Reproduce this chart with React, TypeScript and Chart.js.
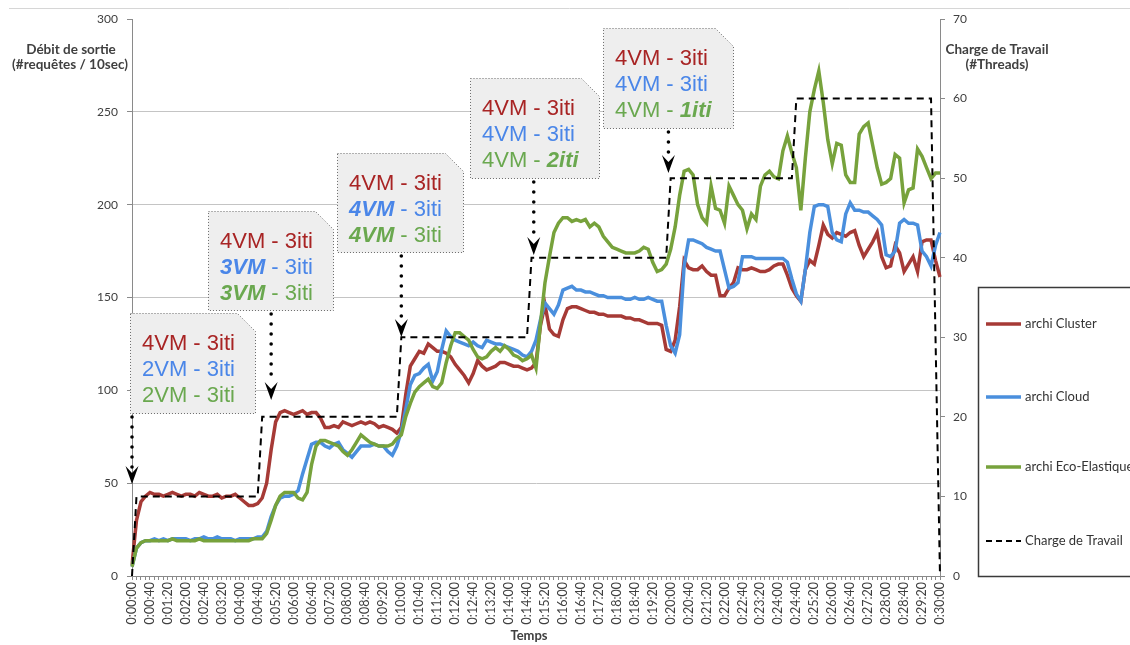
import React, { useEffect, useRef } from 'react';
import { Chart, registerables } from 'chart.js';

Chart.register(...registerables);

// Tick labels shown every 4th sample (every 40 s); samples every 10 s.
const tickLabels: string[] = [
  '0:00:00', '0:00:40', '0:01:20', '0:02:00', '0:02:40', '0:03:20', '0:04:00', '0:04:40',
  '0:05:20', '0:06:00', '0:06:40', '0:07:20', '0:08:00', '0:08:40', '0:09:20', '0:10:00',
  '0:10:40', '0:11:20', '0:12:00', '0:12:40', '0:13:20', '0:14:00', '0:14:40', '0:15:20',
  '0:16:00', '0:16:40', '0:17:20', '0:18:00', '0:18:40', '0:19:20', '0:20:00', '0:20:40',
  '0:21:20', '0:22:00', '0:22:40', '0:23:20', '0:24:00', '0:24:40', '0:25:20', '0:26:00',
  '0:26:40', '0:27:20', '0:28:00', '0:28:40', '0:29:20', '0:30:00',
];

const clusterValues: number[] = [
  6, 30, 40, 43, 45, 44, 44, 43, 44, 45,
  44, 43, 44, 44, 43, 45, 44, 43, 43, 44,
  42, 43, 43, 44, 42, 40, 38, 38, 39, 42,
  50, 68, 83, 88, 89, 88, 87, 88, 89, 87,
  88, 88, 85, 80, 80, 81, 80, 83, 82, 81,
  82, 83, 82, 83, 82, 80, 81, 80, 79, 77,
  80, 98, 113, 117, 121, 120, 125, 123, 121, 121,
  120, 118, 114, 111, 108, 104, 109, 116, 113, 111,
  112, 113, 115, 115, 114, 113, 113, 112, 111, 112,
  115, 135, 146, 133, 130, 129, 138, 144, 145, 145,
  144, 143, 142, 142, 141, 141, 140, 140, 140, 140,
  139, 139, 138, 138, 137, 136, 136, 136, 135, 122,
  121, 127, 145, 170, 166, 165, 165, 167, 164, 162,
  162, 151, 151, 155, 158, 166, 165, 165, 166, 165,
  164, 164, 165, 167, 168, 168, 162, 155, 151, 148,
  165, 170, 168, 178, 189, 184, 182, 185, 184, 183,
  185, 186, 178, 172, 176, 180, 185, 172, 166, 167,
  178, 174, 164, 168, 172, 164, 180, 181, 181, 170,
  161,
];

const cloudValues: number[] = [
  5, 15, 18, 19, 19, 20, 19, 20, 19, 20,
  20, 20, 20, 19, 20, 20, 21, 20, 20, 21,
  20, 20, 20, 19, 20, 20, 20, 20, 21, 21,
  24, 32, 38, 42, 43, 43, 44, 46, 55, 63,
  71, 72, 72, 70, 69, 71, 72, 68, 66, 64,
  67, 70, 70, 70, 71, 70, 70, 67, 65, 70,
  78, 90, 103, 108, 109, 112, 114, 105, 110, 122,
  132, 129, 127, 126, 125, 124, 126, 124, 123, 127,
  126, 125, 125, 124, 123, 122, 121, 119, 118, 121,
  127, 138, 147, 144, 141, 146, 154, 155, 156, 154,
  154, 153, 153, 152, 151, 151, 150, 150, 150, 150,
  149, 149, 150, 149, 149, 150, 149, 148, 148, 135,
  124, 120, 130, 167, 181, 181, 180, 179, 177, 176,
  175, 175, 165, 155, 156, 158, 172, 172, 172, 171,
  171, 171, 171, 171, 171, 171, 169, 160, 152, 148,
  165, 185, 199, 200, 200, 199, 185, 181, 180, 195,
  201, 197, 197, 196, 196, 194, 192, 189, 173, 172,
  175, 190, 192, 190, 190, 189, 175, 172, 167, 178,
  185,
];

const ecoValues: number[] = [
  5, 15, 18, 19, 19, 19, 19, 19, 19, 20,
  19, 19, 19, 19, 19, 20, 19, 19, 19, 19,
  19, 19, 19, 19, 19, 19, 19, 20, 20, 20,
  23, 30, 38, 43, 45, 45, 45, 42, 41, 45,
  60, 70, 73, 73, 72, 71, 70, 67, 65, 68,
  72, 76, 74, 72, 71, 70, 70, 70, 71, 74,
  76, 86, 93, 99, 102, 104, 106, 102, 101, 104,
  115, 124, 131, 131, 129, 127, 122, 118, 117, 118,
  121, 123, 121, 124, 122, 119, 118, 116, 117, 119,
  112, 136, 158, 172, 185, 190, 193, 193, 191, 192,
  191, 192, 188, 190, 188, 183, 180, 177, 176, 175,
  174, 174, 174, 175, 177, 176, 169, 164, 165, 168,
  176, 188, 205, 218, 219, 216, 200, 193, 190, 210,
  198, 197, 190, 210, 205, 200, 197, 187, 195, 192,
  210, 216, 218, 215, 214, 229, 237, 228, 220, 197,
  225, 250, 262, 272, 255, 235, 222, 233, 232, 216,
  212, 212, 238, 242, 244, 232, 220, 211, 212, 214,
  227, 225, 201, 208, 209, 230, 226, 220, 214, 217,
  217,
];

const workloadValues: number[] = [
  0, 10, 10, 10, 10, 10, 10, 10, 10, 10,
  10, 10, 10, 10, 10, 10, 10, 10, 10, 10,
  10, 10, 10, 10, 10, 10, 10, 10, 10, 20,
  20, 20, 20, 20, 20, 20, 20, 20, 20, 20,
  20, 20, 20, 20, 20, 20, 20, 20, 20, 20,
  20, 20, 20, 20, 20, 20, 20, 20, 20, 20,
  30, 30, 30, 30, 30, 30, 30, 30, 30, 30,
  30, 30, 30, 30, 30, 30, 30, 30, 30, 30,
  30, 30, 30, 30, 30, 30, 30, 30, 30, 40,
  40, 40, 40, 40, 40, 40, 40, 40, 40, 40,
  40, 40, 40, 40, 40, 40, 40, 40, 40, 40,
  40, 40, 40, 40, 40, 40, 40, 40, 40, 40,
  50, 50, 50, 50, 50, 50, 50, 50, 50, 50,
  50, 50, 50, 50, 50, 50, 50, 50, 50, 50,
  50, 50, 50, 50, 50, 50, 50, 50, 60, 60,
  60, 60, 60, 60, 60, 60, 60, 60, 60, 60,
  60, 60, 60, 60, 60, 60, 60, 60, 60, 60,
  60, 60, 60, 60, 60, 60, 60, 60, 60, 30,
  0,
];

const seriesNames: string[] = ['archi Cluster', 'archi Cloud', 'archi Eco-Elastique', 'Charge de Travail'];
const seriesColors: string[] = ['#a63a36', '#4a8fdd', '#77a23c', '#000000'];

const RED = '#a82424';
const BLUE = '#4a86e8';
const GREEN = '#6aa84f';

type Part = { text: string; strong?: boolean };
type Line = { color: string; parts: Part[] };
type Note = { left: number; top: number; width: number; height: number; arrowIndex: number; tipY: number; lines: Line[] };

const notes: Note[] = [
  {
    left: 130, top: 313, width: 125, height: 100, arrowIndex: 0, tipY: 484,
    lines: [
      { color: RED, parts: [{ text: '4VM - 3iti' }] },
      { color: BLUE, parts: [{ text: '2VM - 3iti' }] },
      { color: GREEN, parts: [{ text: '2VM - 3iti' }] },
    ],
  },
  {
    left: 208, top: 211, width: 125, height: 99, arrowIndex: 31, tipY: 400,
    lines: [
      { color: RED, parts: [{ text: '4VM - 3iti' }] },
      { color: BLUE, parts: [{ text: '3VM', strong: true }, { text: ' - 3iti' }] },
      { color: GREEN, parts: [{ text: '3VM', strong: true }, { text: ' - 3iti' }] },
    ],
  },
  {
    left: 337, top: 153, width: 126, height: 99, arrowIndex: 60, tipY: 337,
    lines: [
      { color: RED, parts: [{ text: '4VM - 3iti' }] },
      { color: BLUE, parts: [{ text: '4VM', strong: true }, { text: ' - 3iti' }] },
      { color: GREEN, parts: [{ text: '4VM', strong: true }, { text: ' - 3iti' }] },
    ],
  },
  {
    left: 470, top: 78, width: 129, height: 100, arrowIndex: 89.5, tipY: 255,
    lines: [
      { color: RED, parts: [{ text: '4VM - 3iti' }] },
      { color: BLUE, parts: [{ text: '4VM - 3iti' }] },
      { color: GREEN, parts: [{ text: '4VM - ' }, { text: '2iti', strong: true }] },
    ],
  },
  {
    left: 603, top: 28, width: 130, height: 100, arrowIndex: 119.5, tipY: 173,
    lines: [
      { color: RED, parts: [{ text: '4VM - 3iti' }] },
      { color: BLUE, parts: [{ text: '4VM - 3iti' }] },
      { color: GREEN, parts: [{ text: '4VM - ' }, { text: '1iti', strong: true }] },
    ],
  },
];

const categories: string[] = clusterValues.map((_, i) => (i % 4 === 0 ? tickLabels[i / 4] : ''));

const WIDTH = 1130;
const HEIGHT = 645;
const AXIS_FONT = "Lato, 'Liberation Sans', sans-serif";
const NOTE_FONT = "'Liberation Sans', Arial, sans-serif";

const overlayPlugin = {
  id: 'overlay',
  afterDraw(chart: any) {
    const ctx: CanvasRenderingContext2D = chart.ctx;
    const xs = chart.scales.x;
    ctx.save();

    // thin rule at top of the page
    ctx.strokeStyle = '#d6d6d6';
    ctx.lineWidth = 1;
    ctx.beginPath();
    ctx.moveTo(9, 8.5);
    ctx.lineTo(WIDTH, 8.5);
    ctx.stroke();

    // axis titles
    ctx.fillStyle = '#404040';
    ctx.font = `bold 13.5px ${AXIS_FONT}`;
    ctx.textAlign = 'center';
    ctx.textBaseline = 'middle';
    ctx.fillText('Débit de sortie', 71, 50);
    ctx.fillText('(#requêtes / 10sec)', 70, 65);
    ctx.fillText('Charge de Travail', 997, 50);
    ctx.fillText('(#Threads)', 997, 65);
    ctx.font = `bold 13px ${AXIS_FONT}`;
    ctx.fillText('Temps', 529, 636);

    // annotation boxes + arrows
    for (const n of notes) {
      const L = n.left + 0.5, T = n.top + 0.5, R = n.left + n.width + 0.5, B = n.top + n.height + 0.5;
      const f = 18;
      ctx.beginPath();
      ctx.moveTo(L, T);
      ctx.lineTo(R - f, T);
      ctx.lineTo(R, T + f);
      ctx.lineTo(R, B);
      ctx.lineTo(L, B);
      ctx.closePath();
      ctx.fillStyle = '#eeeeee';
      ctx.fill();
      ctx.setLineDash([1, 2]);
      ctx.strokeStyle = '#6a6a6a';
      ctx.lineWidth = 1;
      ctx.stroke();
      ctx.setLineDash([]);

      ctx.textAlign = 'left';
      ctx.textBaseline = 'alphabetic';
      n.lines.forEach((ln, k) => {
        let x = n.left + 12;
        const y = n.top + 37 + k * 26;
        ctx.fillStyle = ln.color;
        ln.parts.forEach((p) => {
          ctx.font = p.strong ? `italic bold 22px ${NOTE_FONT}` : `22px ${NOTE_FONT}`;
          ctx.fillText(p.text, x, y);
          x += ctx.measureText(p.text).width;
        });
      });

      const ax = xs.getPixelForValue(n.arrowIndex);
      const startY = n.top + n.height + 4;
      const endY = n.tipY - 16;
      ctx.fillStyle = '#000';
      for (let y = startY; y < endY; y += 10) {
        ctx.beginPath();
        ctx.arc(ax, y, 1.8, 0, Math.PI * 2);
        ctx.fill();
      }
      ctx.beginPath();
      ctx.moveTo(ax, n.tipY);
      ctx.lineTo(ax - 6.5, n.tipY - 18);
      ctx.lineTo(ax, n.tipY - 11);
      ctx.lineTo(ax + 6.5, n.tipY - 18);
      ctx.closePath();
      ctx.fill();
    }

    // legend (box runs off the right edge of the picture)
    ctx.strokeStyle = '#3a3a3a';
    ctx.lineWidth = 1.5;
    ctx.beginPath();
    ctx.moveTo(WIDTH + 10, 287.5);
    ctx.lineTo(978.5, 287.5);
    ctx.lineTo(978.5, 576.5);
    ctx.lineTo(WIDTH + 10, 576.5);
    ctx.stroke();
    const legendY = [324, 397, 467, 541];
    chart.data.datasets.forEach((ds: any, i: number) => {
      const y = legendY[i];
      ctx.strokeStyle = ds.borderColor;
      ctx.lineWidth = i === 3 ? 2 : 3.5;
      ctx.setLineDash(i === 3 ? [6, 4] : []);
      ctx.beginPath();
      ctx.moveTo(986, y);
      ctx.lineTo(1021, y);
      ctx.stroke();
      ctx.setLineDash([]);
      ctx.fillStyle = '#333';
      ctx.font = `13px ${AXIS_FONT}`;
      ctx.textAlign = 'left';
      ctx.textBaseline = 'middle';
      ctx.fillText(ds.label, 1025, y);
    });

    ctx.restore();
  },
};

export default function App() {
  const canvasRef = useRef<HTMLCanvasElement | null>(null);

  useEffect(() => {
    if (!canvasRef.current) return;
    const lineDs = (i: number, data: number[], order: number) => ({
      label: seriesNames[i],
      data,
      borderColor: seriesColors[i],
      backgroundColor: seriesColors[i],
      borderWidth: 3.5,
      pointRadius: 0,
      tension: 0,
      yAxisID: 'y',
      order,
    });
    const chart = new Chart(canvasRef.current, {
      type: 'line',
      data: {
        labels: categories,
        datasets: [
          lineDs(0, clusterValues, 3),
          lineDs(1, cloudValues, 2),
          lineDs(2, ecoValues, 1),
          {
            label: seriesNames[3],
            data: workloadValues,
            borderColor: seriesColors[3],
            backgroundColor: seriesColors[3],
            borderWidth: 2,
            borderDash: [7, 5],
            pointRadius: 0,
            tension: 0,
            yAxisID: 'y1',
            order: 0,
          },
        ],
      },
      options: {
        responsive: false,
        animation: false,
        layout: { padding: { top: 19, left: 0, right: 0, bottom: 0 } },
        plugins: { legend: { display: false }, tooltip: { enabled: false }, title: { display: false } },
        scales: {
          x: {
            type: 'category',
            afterFit: (s: any) => { s.height = HEIGHT - 576; },
            grid: { drawOnChartArea: false, tickLength: 4, tickColor: '#8a8a8a' },
            border: { color: '#8a8a8a' },
            ticks: {
              autoSkip: false,
              maxRotation: 90,
              minRotation: 90,
              padding: 2,
              color: '#404040',
              font: { family: AXIS_FONT, size: 12.5 },
              callback: (_v: any, i: number) => categories[i],
            },
          },
          y: {
            position: 'left',
            min: 0,
            max: 300,
            afterFit: (s: any) => { s.width = 132; },
            grid: {
              color: (c: any) => (c.tick && (c.tick.value === 0 || c.tick.value === 300) ? 'rgba(0,0,0,0)' : '#c4c4c4'),
              tickColor: '#8a8a8a',
              tickLength: 5,
            },
            border: { color: '#8a8a8a' },
            ticks: { stepSize: 50, color: '#404040', padding: 9, font: { family: AXIS_FONT, size: 12 } },
          },
          y1: {
            position: 'right',
            min: 0,
            max: 70,
            afterFit: (s: any) => { s.width = WIDTH - 940; },
            grid: { drawOnChartArea: false, tickColor: '#8a8a8a', tickLength: 5 },
            border: { color: '#8a8a8a' },
            ticks: { stepSize: 10, color: '#404040', padding: 8, font: { family: AXIS_FONT, size: 12 } },
          },
        },
      },
      plugins: [overlayPlugin],
    } as any);
    return () => chart.destroy();
  }, []);

  return (
    <div style={{ position: 'absolute', left: 0, top: 0, width: WIDTH, height: HEIGHT, background: '#fff' }}>
      <canvas ref={canvasRef} width={WIDTH} height={HEIGHT} style={{ display: 'block', width: WIDTH, height: HEIGHT }} />
    </div>
  );
}
